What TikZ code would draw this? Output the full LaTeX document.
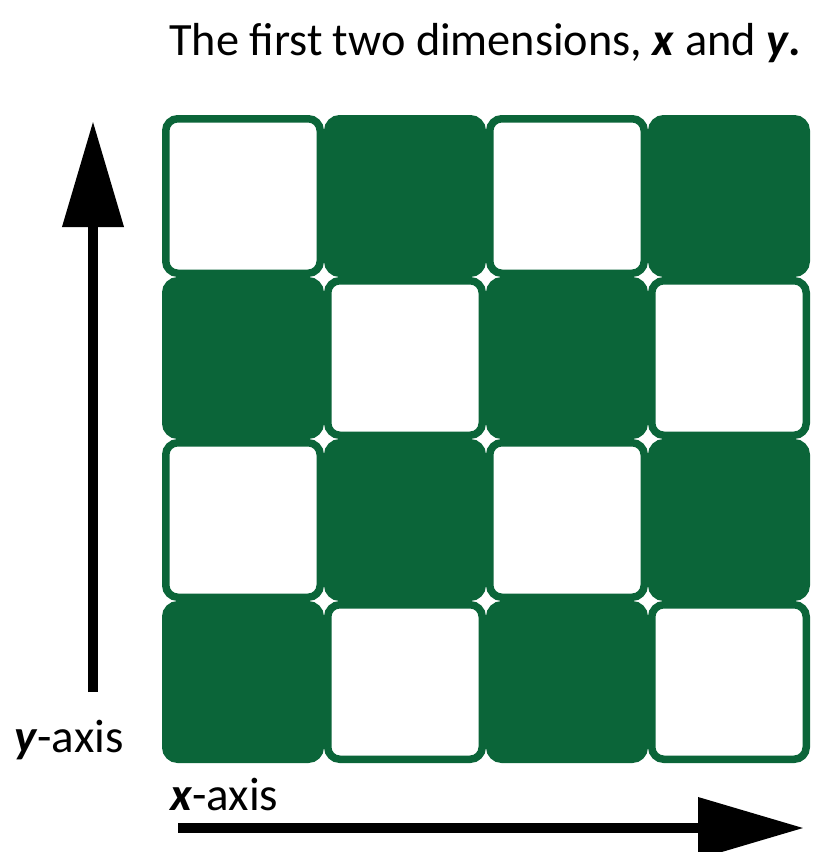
\documentclass[tikz,border=0pt]{standalone}
\usepackage{fontspec}
\setmainfont{Carlito}
\usetikzlibrary{arrows.meta}
\definecolor{cellgreen}{RGB}{11,101,57}
\begin{document}
\begin{tikzpicture}[x=1pt,y=-1pt,
  cellw/.style={draw=cellgreen,line width=7.5pt,fill=white,rounded corners=12pt},
  cellg/.style={draw=cellgreen,line width=7.5pt,fill=cellgreen,rounded corners=12pt},
  axisarrow/.style={line width=10.5pt,-{Triangle[length=106pt,width=59pt]}},
  lbl/.style={inner sep=0pt,anchor=base west,font=\fontsize{47}{56}\selectfont},
  ttl/.style={inner sep=0pt,anchor=base west,font=\fontsize{46.3}{56}\selectfont}]
\useasboundingbox (0,0) rectangle (813,852);
\foreach \r in {0,1,2,3}{
  \foreach \c in {0,1,2,3}{
    \pgfmathtruncatemacro{\cellpar}{mod(\r+\c,2)}
    \ifnum\cellpar=0
      \path[cellw] ({162+162*\c+3.75},{115+162*\r+3.75}) rectangle ({162+162*(\c+1)-3.75},{115+162*(\r+1)-3.75});
    \else
      \path[cellg] ({162+162*\c+3.75},{115+162*\r+3.75}) rectangle ({162+162*(\c+1)-3.75},{115+162*(\r+1)-3.75});
    \fi
  }
}
\node[ttl] (title) at (169,55) {The first two dimensions, \textbf{\textit{x}} and \textbf{\textit{y}.}};
\node[lbl] (ylbl) at (14,752) {\textbf{\textit{y}}-axis};
\node[lbl] (xlbl) at (170,810) {\textbf{\textit{x}}-axis};
\coordinate (ys) at (93,692);
\coordinate (ye) at (93,121);
\coordinate (xs) at (178,828);
\coordinate (xe) at (804,828);
\draw[axisarrow] (ys) -- (ye);
\draw[axisarrow] (xs) -- (xe);
\end{tikzpicture}
\end{document}
